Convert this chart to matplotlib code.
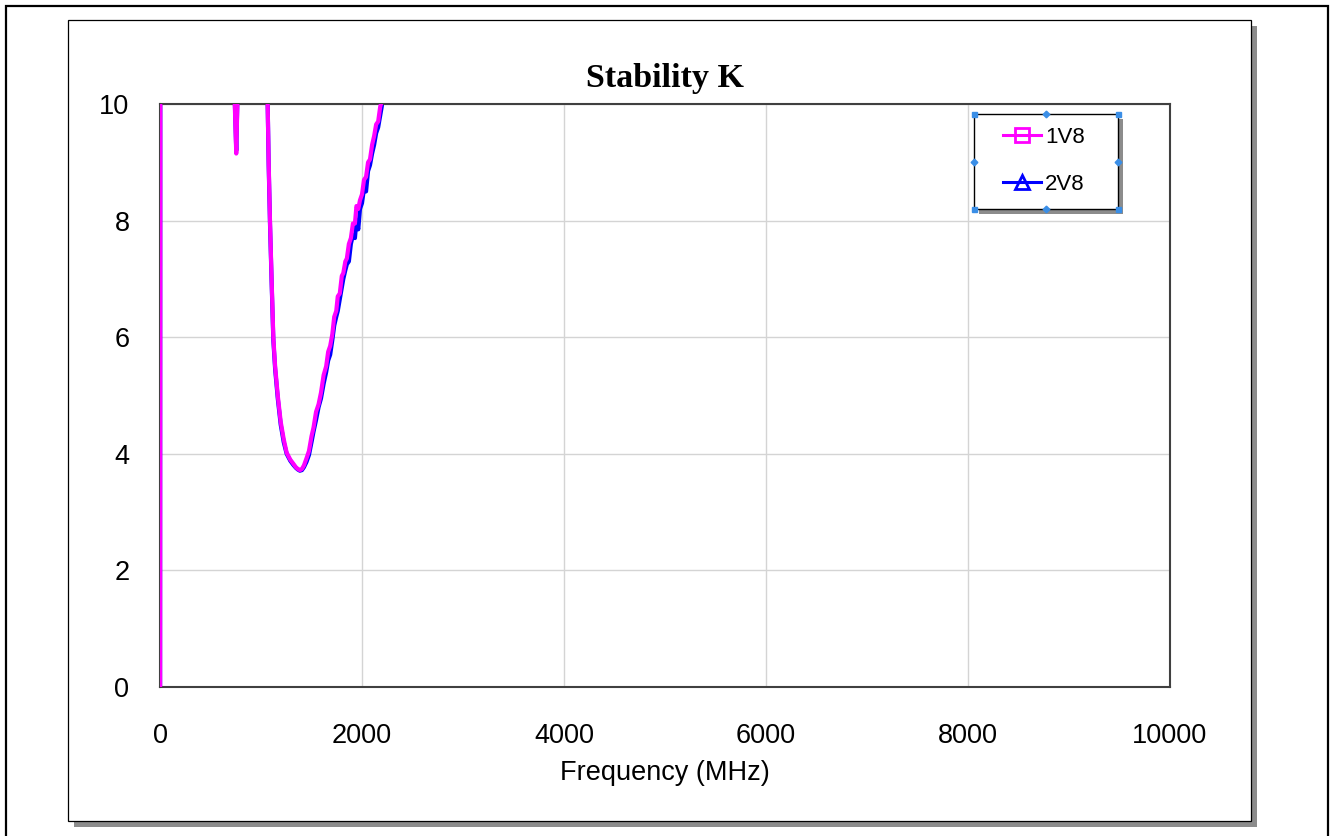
import matplotlib
matplotlib.use("Agg")
import matplotlib.pyplot as plt
from matplotlib.patches import Rectangle
from matplotlib.lines import Line2D

# ---------------- data ----------------
series_names = ["1V8", "2V8"]
series_colors = ["#ff00ff", "#0000ff"]

freq_1v8 = [1, 10, 700, 720, 735, 755, 770, 785, 800, 1000, 1050,
            1066, 1076, 1089, 1105, 1122, 1140, 1166, 1195, 1225, 1254, 1290, 1320, 1345,
            1365, 1385, 1405, 1425, 1450, 1475, 1500, 1520, 1545, 1570, 1594, 1620, 1645,
            1665, 1685, 1706, 1725, 1745, 1760, 1780, 1800, 1815, 1835, 1850, 1870, 1890,
            1910, 1930, 1945, 1963, 1980, 2000, 2020, 2040, 2060, 2079, 2100, 2120, 2140,
            2160, 2180, 2195, 2220, 2260]
k_1v8 = [0.0, 50, 30, 12, 10.3, 9.15, 10.3, 12, 20, 20, 12,
         10.0, 9.0, 8.0, 7.0, 6.0, 5.5, 5.0, 4.55, 4.25, 4.02, 3.9, 3.83, 3.77,
         3.74, 3.72, 3.74, 3.8, 3.92, 4.05, 4.3, 4.45, 4.72, 4.85, 5.05, 5.35, 5.5,
         5.75, 5.85, 6.05, 6.35, 6.45, 6.7, 6.75, 7.05, 7.1, 7.3, 7.35, 7.6, 7.7,
         7.95, 7.95, 8.25, 8.2, 8.35, 8.45, 8.7, 8.75, 9.0, 9.05, 9.3, 9.45, 9.65,
         9.7, 9.95, 10.05, 10.4, 11]

freq_2v8 = [1, 10, 700, 720, 735, 755, 770, 785, 800, 1000, 1050,
            1066, 1076, 1089, 1105, 1122, 1140, 1166, 1195, 1225, 1254, 1290, 1320, 1345,
            1365, 1385, 1405, 1425, 1450, 1475, 1500, 1520, 1545, 1570, 1594, 1620, 1645,
            1665, 1685, 1706, 1725, 1745, 1760, 1780, 1800, 1815, 1835, 1850, 1870, 1890,
            1910, 1930, 1945, 1963, 1980, 2000, 2020, 2040, 2060, 2079, 2100, 2120, 2140,
            2160, 2180, 2195, 2220, 2260]
k_2v8 = [0.0, 50, 30, 12, 10.4, 9.2, 10.4, 12, 20, 20, 12,
         10.0, 8.95, 7.95, 6.95, 5.95, 5.45, 4.95, 4.5, 4.2, 4.0, 3.88, 3.81, 3.76,
         3.73, 3.71, 3.72, 3.77, 3.86, 3.98, 4.2, 4.38, 4.58, 4.8, 4.95, 5.2, 5.4,
         5.6, 5.7, 5.95, 6.2, 6.35, 6.45, 6.65, 6.85, 7.0, 7.15, 7.25, 7.3, 7.6,
         7.75, 7.7, 8.0, 7.85, 8.2, 8.3, 8.55, 8.5, 8.85, 8.95, 9.15, 9.3, 9.5,
         9.6, 9.8, 9.95, 10.3, 11]

x_ticks = [0, 2000, 4000, 6000, 8000, 10000]
y_ticks = [0, 2, 4, 6, 8, 10]

# ---------------- figure ----------------
W, H = 1332, 836
fig = plt.figure(figsize=(W / 100, H / 100), dpi=100)
fig.patch.set_facecolor("white")


def fx(px):
    return px / W


def fy(py):
    return 1 - py / H


def frect(x0, y0, x1, y1, **kw):
    r = Rectangle((fx(x0), fy(y1)), fx(x1) - fx(x0), fy(y0) - fy(y1),
                  transform=fig.transFigure, **kw)
    fig.patches.append(r)
    return r


# outer border
frect(6, 6, 1328, 845, facecolor="none", edgecolor="black", lw=1.6, zorder=-5)
# panel shadow and panel
frect(74, 26, 1257, 827, facecolor="#8c8c8c", edgecolor="none", zorder=-4)
frect(68, 20, 1251, 821, facecolor="white", edgecolor="black", lw=0.9, zorder=-3)

# axes
ax = fig.add_axes([fx(160), fy(687), fx(1170) - fx(160), fy(104) - fy(687)])
ax.set_facecolor("white")

for fr, kv, col, z in [(freq_2v8, k_2v8, series_colors[1], 2),
                       (freq_1v8, k_1v8, series_colors[0], 3)]:
    ax.plot(fr, kv, color=col, lw=3.0, zorder=z, solid_joinstyle="round")

ax.set_xlim(0, 10000)
ax.set_ylim(0, 10)
ax.set_xticks(x_ticks)
ax.set_yticks(y_ticks)
ax.set_xticklabels([str(t) for t in x_ticks])
ax.set_yticklabels([str(t) for t in y_ticks])
ax.grid(True, color="#d4d4d4", lw=1.0)
ax.set_axisbelow(True)
for s in ax.spines.values():
    s.set_color("#404040")
    s.set_linewidth(1.5)
ax.tick_params(length=0, labelsize=19.5, colors="black")
ax.tick_params(axis="x", pad=26)
ax.tick_params(axis="y", pad=22)
for lab in ax.get_xticklabels() + ax.get_yticklabels():
    lab.set_fontfamily("Liberation Sans")

ax.set_xlabel("Frequency (MHz)", fontsize=19.5, fontfamily="Liberation Sans", labelpad=8)
ax.set_title("Stability K", fontsize=24.5, fontfamily="Liberation Serif",
             fontweight="bold", pad=12)

# legend box with shadow and selection handles
frect(979, 119, 1123, 214, facecolor="#8c8c8c", edgecolor="none", zorder=4)
frect(974, 114, 1118, 209, facecolor="white", edgecolor="black", lw=1.0, zorder=4.1)
hx = [974, 1046, 1118]
hy = [114, 161.5, 209]
for px in hx:
    for py in hy:
        if px == 1046 and py == 161.5:
            continue
        corner = (px != 1046) and (py != 161.5)
        fig.lines.append(Line2D([fx(px)], [fy(py)], transform=fig.transFigure,
                                marker="s" if corner else "D",
                                markersize=3.6 if corner else 3.4,
                                color="#3a8ee6", mec="#3a8ee6", ls="none", zorder=4.3))

leg_handles = [
    Line2D([], [], color=series_colors[0], lw=2.2, marker="s", markersize=9.5,
           markerfacecolor="none", markeredgewidth=2.0),
    Line2D([], [], color=series_colors[1], lw=2.2, marker="^", markersize=9.5,
           markerfacecolor="none", markeredgewidth=2.0),
]
leg = fig.legend(leg_handles, series_names, loc="center",
                 bbox_to_anchor=(fx(1044), fy(161)), frameon=False,
                 prop={"family": "Liberation Sans", "size": 16},
                 handlelength=1.7, handletextpad=0.2, labelspacing=1.15,
                 borderpad=0.2)
leg.set_zorder(6)

fig.savefig("out.png", dpi=100, facecolor="white")
